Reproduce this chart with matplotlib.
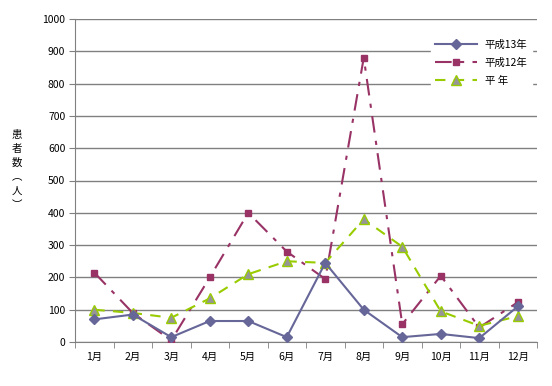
import matplotlib
matplotlib.use("Agg")
import matplotlib.pyplot as plt
import numpy as np

plt.rcParams['font.family'] = ['Noto Sans CJK JP', 'DejaVu Sans']

months = ["1月", "2月", "3月", "4月", "5月", "6月", "7月", "8月", "9月", "10月", "11月", "12月"]
h13 = [70, 85, 15, 65, 65, 15, 245, 100, 15, 25, 12, 110]
h12 = [215, 90, 5, 200, 400, 280, 195, 880, 55, 205, 45, 123]
heinen = [100, 90, 75, 135, 210, 250, 245, 380, 295, 95, 50, 80]

fig = plt.figure(figsize=(5.52, 3.86), dpi=100)
ax = fig.add_axes([75/552, 1 - 342/386, 462/552, 323/386])

x = np.arange(1, 13)
ax.plot(x, h13, color="#666699", lw=1.5, marker="D", ms=5.5, mfc="#666699", mec="#666699", label="平成13年", zorder=4)
ax.plot(x, h12, color="#993366", lw=1.5, ls=(0, (8, 4, 2, 4)), marker="s", ms=5, mfc="#993366", mec="#993366", label="平成12年", zorder=3)
ax.plot(x, heinen, color="#99cc00", lw=1.5, ls=(0, (5, 4)), marker="^", ms=7.5, mfc="#969696", mec="#99cc00", label="平 年", zorder=3)

ax.set_xlim(0.5, 12.5)
ax.set_ylim(0, 1000)
ax.set_yticks(np.arange(0, 1001, 100))
ax.set_yticklabels([str(v) for v in range(0, 1001, 100)], fontsize=7.5)
ax.set_xticks(x)
ax.set_xticklabels(months, fontsize=7.5)
ax.set_xticks(np.arange(0.5, 12.6, 1), minor=True)
ax.tick_params(axis="x", which="major", length=0, pad=7)
ax.tick_params(axis="x", which="minor", length=4, color="#808080")
ax.tick_params(axis="y", length=4, color="#808080", pad=3)
ax.grid(axis="y", color="#808080", lw=1)
ax.set_axisbelow(True)
for s in ["top", "right"]:
    ax.spines[s].set_visible(False)
for s in ["left", "bottom"]:
    ax.spines[s].set_color("#808080")

fig.text(17/552, 1 - 170/386, "患\n者\n数\n︵\n人\n︶", fontsize=7.5, ha="center", va="center", linespacing=1.5)

leg = ax.legend(loc="upper right", bbox_to_anchor=(1.0, 0.965), fontsize=7.5, frameon=True,
                handlelength=4, borderpad=0.4, labelspacing=0.75)
leg.get_frame().set_edgecolor("white")
leg.get_frame().set_facecolor("white")
leg.get_frame().set_alpha(1)

fig.savefig("out.png", dpi=100)
